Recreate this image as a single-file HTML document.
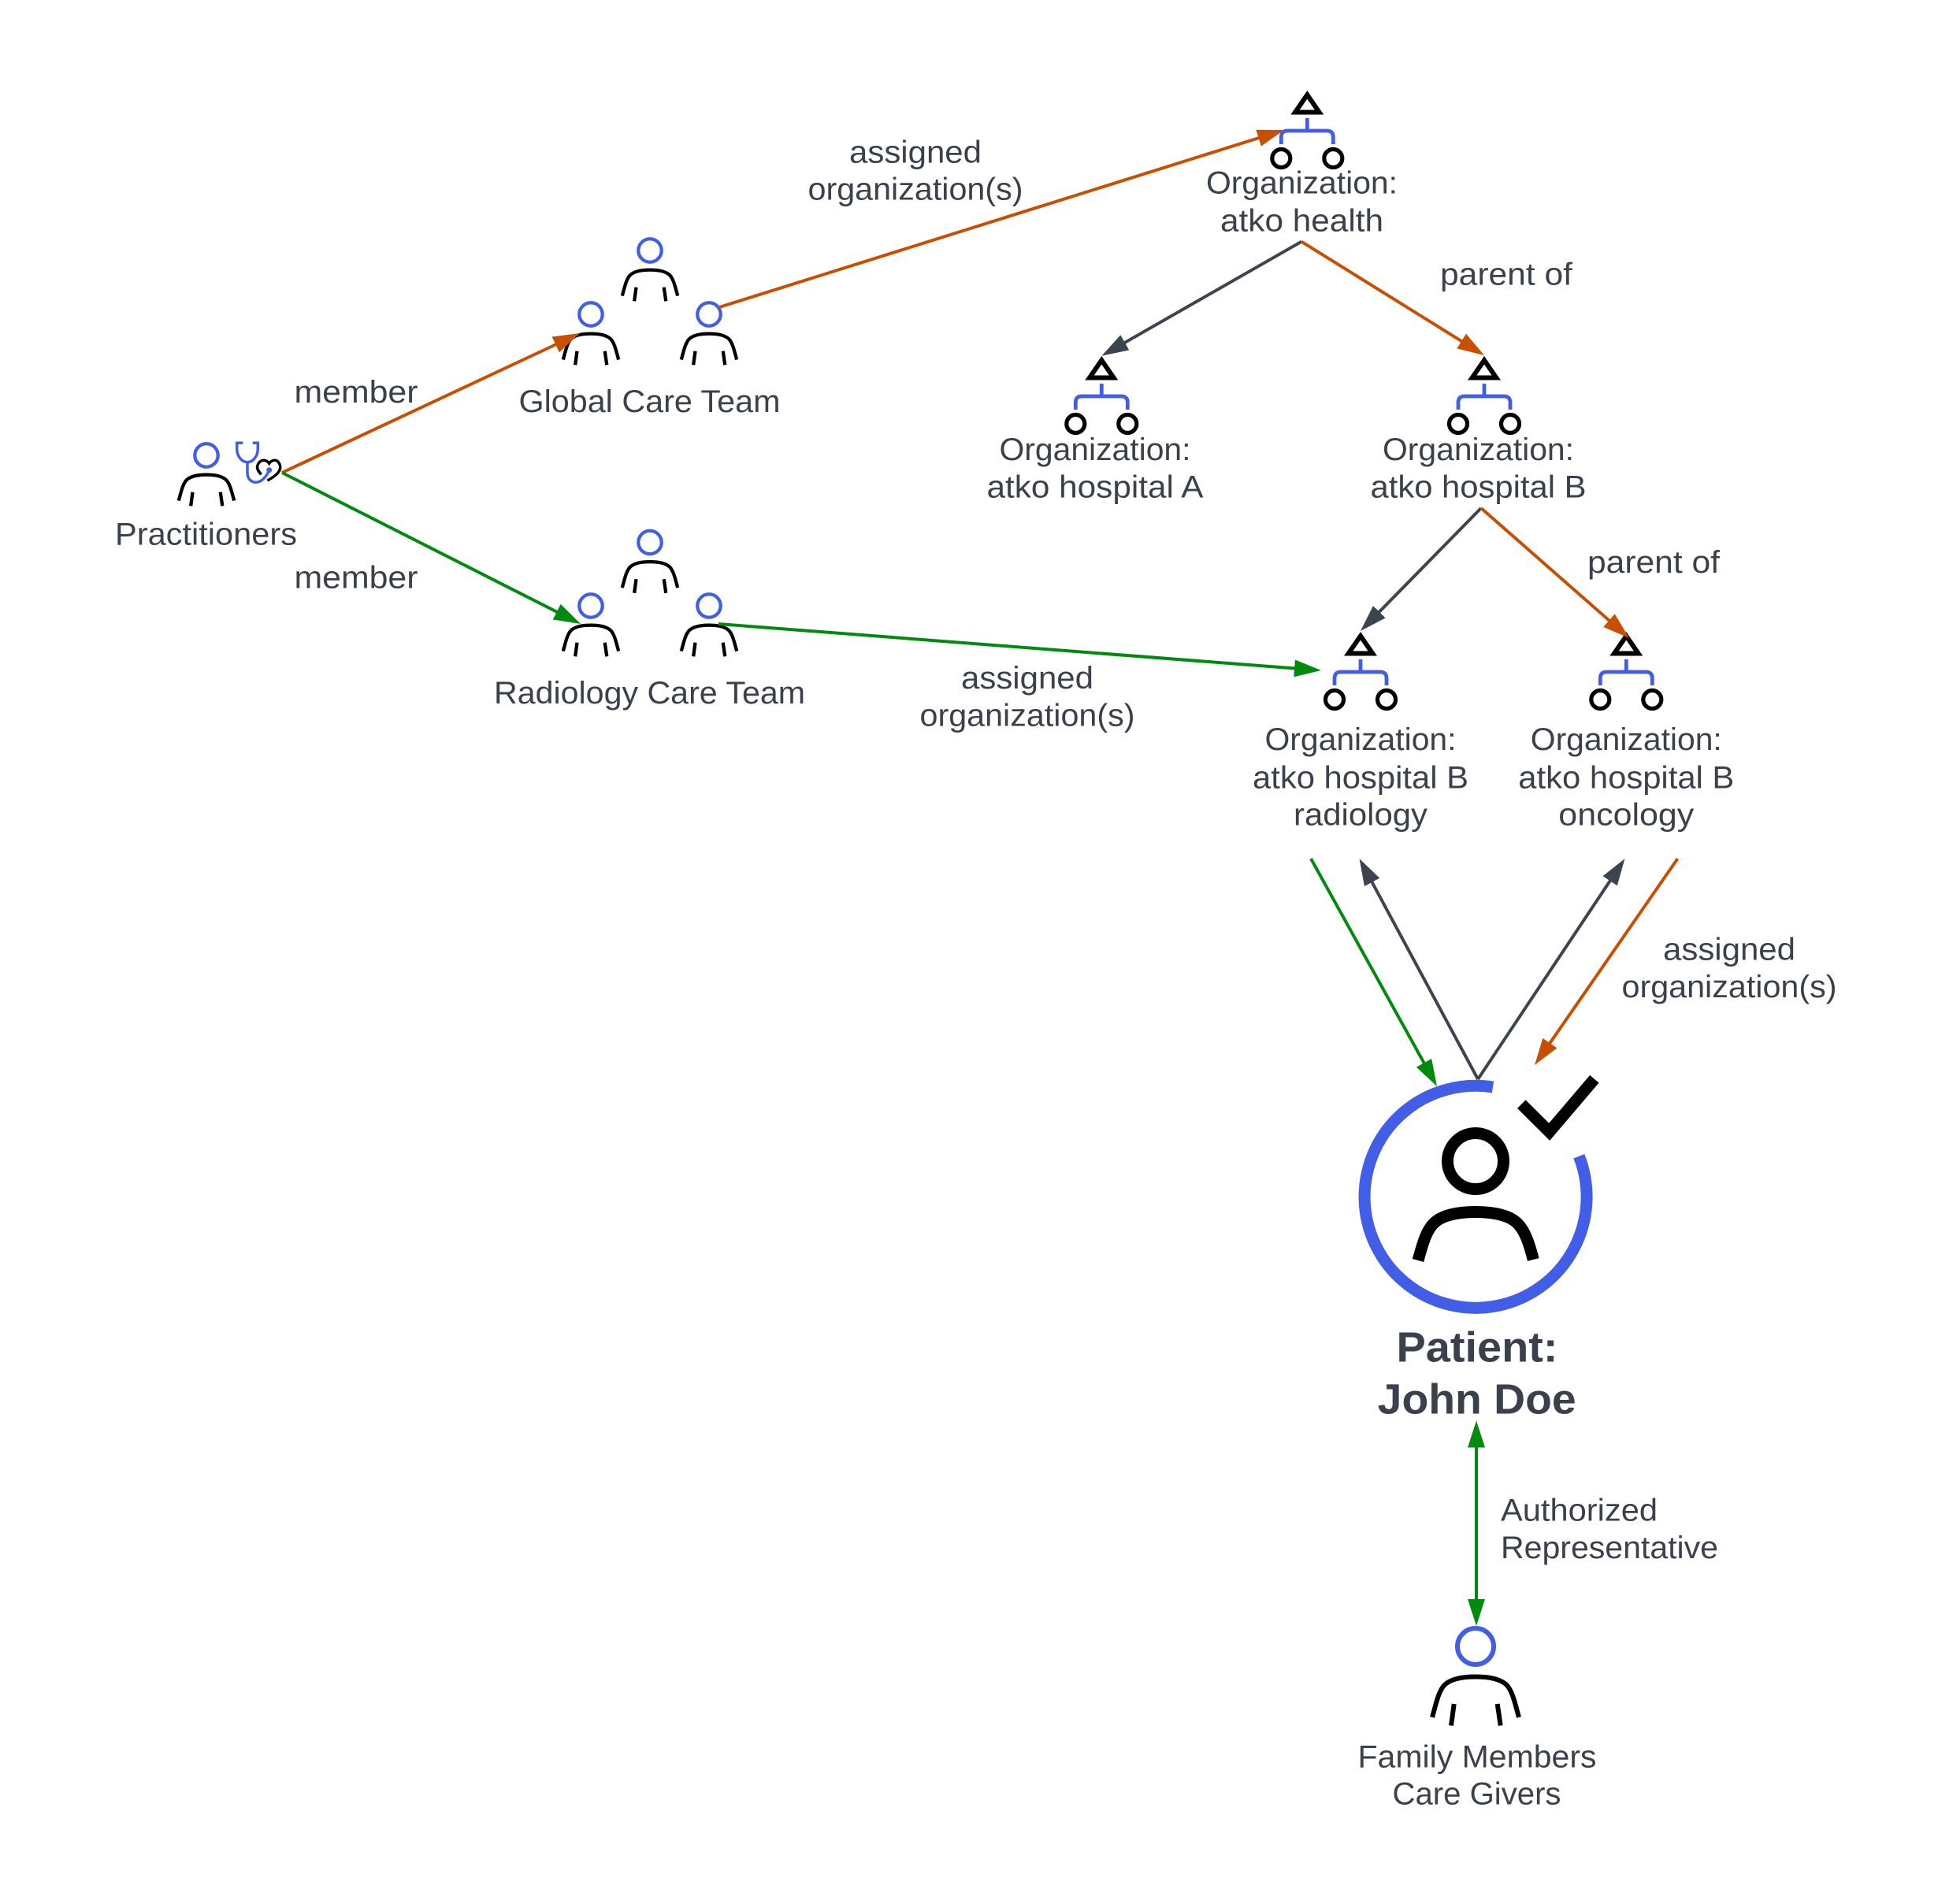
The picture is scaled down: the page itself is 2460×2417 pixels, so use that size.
<!DOCTYPE html>
<html>
<head>
<meta charset="utf-8">
<style>
html,body{margin:0;padding:0;background:#fff}
svg{display:block}
text{font-family:"Liberation Sans",sans-serif;font-size:40px;fill:#3b414c;text-anchor:middle}
.l{text-anchor:start}
.b{font-weight:bold;font-size:54px}
.ph{fill:none;stroke:#425de6}
.pb{fill:none;stroke:#000}
.sm{stroke-width:6.7}
.lg{stroke-width:6}
.lnk{fill:none;stroke-width:4}
.o{stroke:#c94f00}.g{stroke:#008a0e}.d{stroke:#3d444f}
</style>
</head>
<body>
<svg width="2460" height="2417" viewBox="0 0 2460 2417" xmlns="http://www.w3.org/2000/svg">
<defs>
<g id="person">
<circle class="ph" cx="0" cy="0" r="23"/>
<path class="pb" d="M-55 90C-50.500 74-46.700 55-38.400 48C-29.400 40.400-12.800 38.500 0 38.500C12.800 38.500 29.400 40.400 38.400 48C46.700 55 50.500 74 55 90"/>
<path class="pb" d="M-27.300 73L-31 100.500M27.700 73L31.700 100.500"/>
</g>
<g id="org">
<path d="M0 5.300L-15.300 27.500H15.300Z" fill="none" stroke="#000" stroke-width="6" stroke-miterlimit="10"/>
<path d="M0 35V51M-33 68V59Q-33 51-25 51H25Q33 51 33 59V68" fill="none" stroke="#425de6" stroke-width="4.800"/>
<circle cx="-33" cy="86" r="11.500" fill="none" stroke="#000" stroke-width="5.200"/>
<circle cx="33" cy="86" r="11.500" fill="none" stroke="#000" stroke-width="5.200"/>
</g>
<marker id="mo" markerUnits="userSpaceOnUse" markerWidth="36" markerHeight="24" refX="14" refY="11" orient="auto"><path d="M0 0L34 11L0 22Z" fill="#c94f00"/></marker>
<marker id="mg" markerUnits="userSpaceOnUse" markerWidth="36" markerHeight="24" refX="14" refY="11" orient="auto"><path d="M0 0L34 11L0 22Z" fill="#008a0e"/></marker>
<marker id="md" markerUnits="userSpaceOnUse" markerWidth="36" markerHeight="24" refX="14" refY="11" orient="auto"><path d="M0 0L34 11L0 22Z" fill="#3d444f"/></marker>
</defs>

<!-- practitioner -->
<use class="sm" href="#person" transform="translate(262 578) scale(.64)"/>
<path d="M308.300 562.300H300.700V570C300.700 579 307 586.700 314 586.700C321 586.700 327.300 579 327.300 570V562.300H320.700" fill="none" stroke="#425de6" stroke-width="3.500"/>
<path d="M314 586.700V600C314 608 319 612.300 325 612.300C332 612.300 339 604 341.700 596.700" fill="none" stroke="#425de6" stroke-width="3.500"/>
<circle cx="341.700" cy="596.700" r="3.500" fill="#425de6"/>
<path d="M331.700 602.300C327.500 598 326 594 326.700 591.700C328 586 333 583.500 336 584.500C339 585 340.500 586.500 341.700 588.300C343 586.500 345 584.500 348.300 584.300C352 584 355.700 588 355.700 593.300C355.700 600 347 606 339.300 610" fill="none" stroke="#000" stroke-width="3.500"/>

<!-- teams -->
<use class="sm" href="#person" transform="translate(825 318) scale(.64)"/>
<use class="sm" href="#person" transform="translate(750 399) scale(.64)"/>
<use class="sm" href="#person" transform="translate(900 399) scale(.64)"/>
<use class="sm" href="#person" transform="translate(825 688.500) scale(.64)"/>
<use class="sm" href="#person" transform="translate(750 769) scale(.64)"/>
<use class="sm" href="#person" transform="translate(900 769) scale(.64)"/>
<use class="lg" href="#person" transform="translate(1873 2090)"/>

<!-- orgs -->
<use href="#org" transform="translate(1659.300 115)"/>
<use href="#org" transform="translate(1398.300 452)"/>
<use href="#org" transform="translate(1884 452)"/>
<use href="#org" transform="translate(1727 802)"/>
<use href="#org" transform="translate(2064.300 802)"/>

<!-- patient -->
<path d="M1895 1380A141 141 0 1 0 2004.300 1467.700" fill="none" stroke="#425de6" stroke-width="15"/>
<circle cx="1873" cy="1474" r="35.500" fill="none" stroke="#000" stroke-width="15"/>
<path d="M1800 1600C1806 1578 1811 1560 1822 1551C1834 1541 1856 1538.500 1873 1538.500C1890 1538.500 1912 1541 1924 1551C1935 1560 1941 1578 1946.300 1599" fill="none" stroke="#000" stroke-width="15"/>
<polyline points="1931.300,1401.700 1966.700,1436.800 2023.800,1369.800" fill="none" stroke="#000" stroke-width="15" stroke-miterlimit="10"/>

<!-- links -->
<line class="lnk o" x1="358" y1="600" x2="717.900" y2="431.500" marker-end="url(#mo)"/>
<line class="lnk g" x1="358" y1="600" x2="719.200" y2="783" marker-end="url(#mg)"/>
<line class="lnk o" x1="913" y1="390" x2="1610.900" y2="171" marker-end="url(#mo)"/>
<line class="lnk d" x1="1652" y1="306.700" x2="1415.700" y2="441.800" marker-end="url(#md)"/>
<line class="lnk o" x1="1652" y1="306.700" x2="1867" y2="440.400" marker-end="url(#mo)"/>
<line class="lnk d" x1="1880" y1="645" x2="1741" y2="786.700" marker-end="url(#md)"/>
<line class="lnk o" x1="1880" y1="645" x2="2053" y2="796.800" marker-end="url(#mo)"/>
<line class="lnk g" x1="912" y1="792" x2="1657" y2="849.500" marker-end="url(#mg)"/>
<line class="lnk g" x1="1664" y1="1090" x2="1814.300" y2="1361.500" marker-end="url(#mg)"/>
<line class="lnk d" x1="1876" y1="1370" x2="1735" y2="1107.600" marker-end="url(#md)"/>
<line class="lnk d" x1="1876" y1="1370" x2="2051.400" y2="1106.600" marker-end="url(#md)"/>
<line class="lnk o" x1="2129.500" y1="1090" x2="1959.400" y2="1335.600" marker-end="url(#mo)"/>
<line class="lnk g" x1="1874" y1="1823.500" x2="1874" y2="2044" marker-end="url(#mg)"/>
<path d="M1863 1837.500L1874 1803.500L1885 1837.500Z" fill="#008a0e"/>

<!-- labels -->
<text x="261.500" y="691.700" textLength="231" lengthAdjust="spacingAndGlyphs">Practitioners</text>
<text x="452" y="511" textLength="157" lengthAdjust="spacingAndGlyphs">member</text>
<text x="452" y="746.500" textLength="157" lengthAdjust="spacingAndGlyphs">member</text>
<text x="824.500" y="523" textLength="332" lengthAdjust="spacingAndGlyphs">Global Care Team</text>
<text x="824.500" y="893" textLength="395" lengthAdjust="spacingAndGlyphs">Radiology Care Team</text>

<text x="1162" y="206.500" textLength="168" lengthAdjust="spacingAndGlyphs">assigned</text>
<text x="1162" y="253.500" textLength="273" lengthAdjust="spacingAndGlyphs">organization(s)</text>

<text x="1652.500" y="245.700" textLength="243" lengthAdjust="spacingAndGlyphs">Organization:</text>
<text x="1652.500" y="293.300" textLength="207" lengthAdjust="spacingAndGlyphs">atko health</text>

<text x="1912" y="361.500" textLength="168" lengthAdjust="spacingAndGlyphs">parent of</text>

<text x="1390" y="584" textLength="243" lengthAdjust="spacingAndGlyphs">Organization:</text>
<text x="1390" y="631.500" textLength="275" lengthAdjust="spacingAndGlyphs">atko hospital A</text>

<text x="1876.500" y="584" textLength="243" lengthAdjust="spacingAndGlyphs">Organization:</text>
<text x="1876.500" y="631.500" textLength="274" lengthAdjust="spacingAndGlyphs">atko hospital B</text>

<text x="2099" y="727" textLength="168" lengthAdjust="spacingAndGlyphs">parent of</text>

<text x="1304" y="874" textLength="168" lengthAdjust="spacingAndGlyphs">assigned</text>
<text x="1304" y="921.500" textLength="273" lengthAdjust="spacingAndGlyphs">organization(s)</text>

<text x="1727" y="952" textLength="243" lengthAdjust="spacingAndGlyphs">Organization:</text>
<text x="1727" y="1000.300" textLength="274" lengthAdjust="spacingAndGlyphs">atko hospital B</text>
<text x="1727" y="1047.700" textLength="170" lengthAdjust="spacingAndGlyphs">radiology</text>

<text x="2064.300" y="952" textLength="243" lengthAdjust="spacingAndGlyphs">Organization:</text>
<text x="2064.300" y="1000.300" textLength="274" lengthAdjust="spacingAndGlyphs">atko hospital B</text>
<text x="2064.300" y="1047.700" textLength="172" lengthAdjust="spacingAndGlyphs">oncology</text>

<text x="2195" y="1218.500" textLength="168" lengthAdjust="spacingAndGlyphs">assigned</text>
<text x="2195" y="1266" textLength="273" lengthAdjust="spacingAndGlyphs">organization(s)</text>

<text class="b" x="1875" y="1728.600" textLength="205" lengthAdjust="spacingAndGlyphs">Patient:</text>
<text class="b" x="1874.700" y="1794.600" textLength="252" lengthAdjust="spacingAndGlyphs">John Doe</text>

<text class="l" x="1905" y="1930.500" textLength="199" lengthAdjust="spacingAndGlyphs">Authorized</text>
<text class="l" x="1905" y="1978" textLength="276" lengthAdjust="spacingAndGlyphs">Representative</text>

<text x="1875" y="2243.300" textLength="303" lengthAdjust="spacingAndGlyphs">Family Members</text>
<text x="1874.500" y="2290.700" textLength="214" lengthAdjust="spacingAndGlyphs">Care Givers</text>
</svg>
</body>
</html>
